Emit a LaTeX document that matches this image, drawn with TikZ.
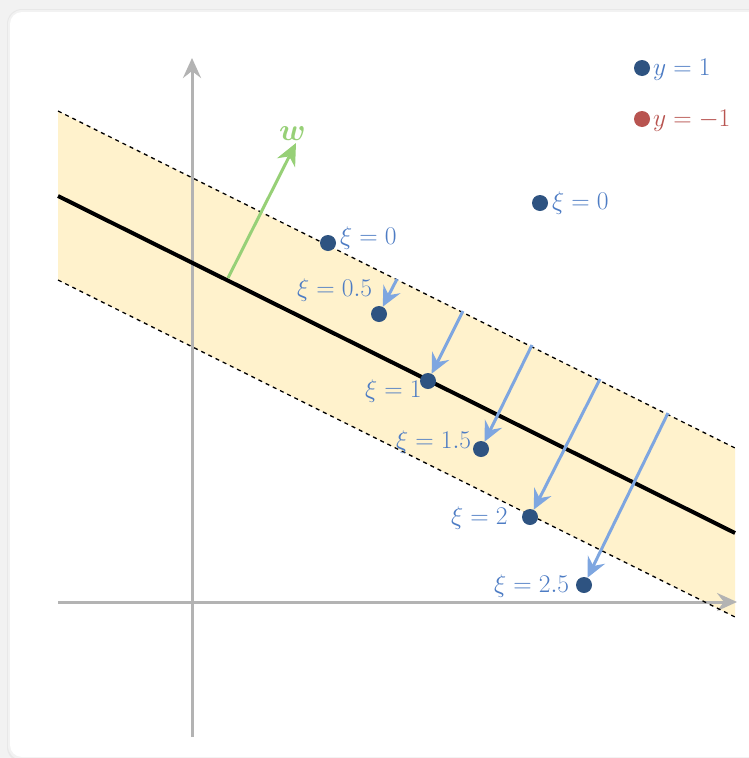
\RequirePackage{fix-cm}
\documentclass[tikz,border=0pt]{standalone}
\usepackage{amsmath,bm}
\usetikzlibrary{arrows.meta}
\definecolor{bandfill}{HTML}{FFF2CC}
\definecolor{axisgray}{HTML}{B3B3B3}
\definecolor{dotblue}{HTML}{2E5381}
\definecolor{lblblue}{HTML}{4D7CC4}
\definecolor{arrblue}{HTML}{7EA6E0}
\definecolor{wgreen}{HTML}{97D077}
\definecolor{dotred}{HTML}{B85450}
\definecolor{pagebg}{HTML}{F2F2F2}
\tikzset{
  pt/.style={circle,fill=dotblue,inner sep=0pt,minimum size=16pt},
  ptred/.style={circle,fill=dotred,inner sep=0pt,minimum size=16pt},
  lbl/.style={text=lblblue,inner sep=0pt,anchor=base west,font=\fontsize{25.5}{29}\selectfont},
  slack/.style={arrblue,line width=3pt,-{Stealth[length=20pt,width=19pt,inset=7pt]}},
  axis/.style={axisgray,line width=3pt,-{Stealth[length=20pt,width=18pt,inset=7pt]}},
  margin/.style={black,line width=1.3pt,dash pattern=on 4pt off 4pt},
}
\begin{document}
\begin{tikzpicture}[x=1pt,y=-1pt]
\useasboundingbox (0,0) rectangle (749,758);
\fill[pagebg] (0,0) rectangle (749,758);
\fill[black!9,rounded corners=15pt] (7,9) rectangle (775,762);
\fill[black!5,rounded corners=14pt] (8,10) rectangle (775,760);
\fill[white,rounded corners=12pt] (10,12) rectangle (775,757);
% band
\fill[bandfill] (58,111) -- (735,448) -- (735,617) -- (58,280) -- cycle;
% axes
\coordinate (xs) at (58,602);
\coordinate (xe) at (737,602);
\coordinate (ys) at (192,737);
\coordinate (ye) at (192,58);
\draw[axis] (xs) -- (xe);
\draw[axis] (ys) -- (ye);
% margins and hyperplane
\coordinate (u1) at (58,111);
\coordinate (u2) at (735,448);
\coordinate (l1) at (58,280);
\coordinate (l2) at (735,617);
\coordinate (m1) at (58,196);
\coordinate (m2) at (735,533);
\draw[margin] (u1) -- (u2);
\draw[margin] (l1) -- (l2);
\draw[line width=4pt] (m1) -- (m2);
% w
\coordinate (w0) at (228,278);
\coordinate (w1) at (296,143);
\draw[wgreen,line width=3pt,-{Stealth[length=22pt,width=20pt,inset=7pt]}] (w0) -- (w1);
\node[lbl,text=wgreen,font=\fontsize{31}{34}\selectfont] (wl) at (279,140) {$\bm{w}$};
% points
\node[pt] (p0a) at (328,243) {};
\node[pt] (p0b) at (540,203) {};
\node[pt] (p05) at (379,314) {};
\node[pt] (p1) at (428,381) {};
\node[pt] (p15) at (481,449) {};
\node[pt] (p2) at (530,517) {};
\node[pt] (p25) at (584,585) {};
% labels
\node[lbl] (t0a) at (340,244) {$\xi = 0$};
\node[lbl] (t0b) at (552,209) {$\xi = 0$};
\node[lbl] (t05) at (297,296) {$\xi = 0.5$};
\node[lbl] (t1) at (365,397) {$\xi = 1$};
\node[lbl] (t15) at (396,448) {$\xi = 1.5$};
\node[lbl] (t2) at (451,524) {$\xi = 2$};
\node[lbl] (t25) at (494,592) {$\xi = 2.5$};
% slack arrows
\coordinate (s05) at (397,279);
\coordinate (s1) at (463,311);
\coordinate (s15) at (532,345);
\coordinate (s2) at (600,379);
\coordinate (s25) at (668,413);
\draw[slack] (s05) -- (p05);
\draw[slack] (s1) -- (p1);
\draw[slack] (s15) -- (p15);
\draw[slack] (s2) -- (p2);
\draw[slack] (s25) -- (p25);
% legend
\node[pt] (lg1) at (642,68) {};
\node[ptred] (lg2) at (642,119) {};
\node[lbl] (lt1) at (653,75) {$y = 1$};
\node[lbl,text=dotred] (lt2) at (653,126) {$y = -1$};
\end{tikzpicture}
\end{document}
